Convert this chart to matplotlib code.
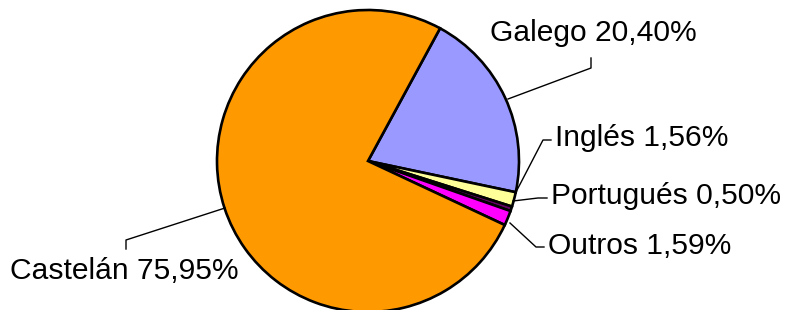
import matplotlib.pyplot as plt

# Data
labels = ["Galego", "Inglés", "Portugués", "Outros", "Castelán"]
values = [20.40, 1.56, 0.50, 1.59, 75.95]
colors = ["#9999FF", "#FFFF99", "#660066", "#FF00FF", "#FF9900"]
label_text = ["Galego 20,40%", "Inglés 1,56%", "Portugués 0,50%", "Outros 1,59%", "Castelán 75,95%"]

plt.rcParams['font.family'] = ['Liberation Sans', 'DejaVu Sans']

W, H = 787, 310
fig = plt.figure(figsize=(W / 100, H / 100), dpi=100)
ax = fig.add_axes([0, 0, 1, 1])


def Y(y):
    # image pixel row -> data y (upwards)
    return H - y


ax.pie(values, colors=colors, startangle=61.5, counterclock=False,
       center=(368, Y(161)), radius=151,
       wedgeprops=dict(edgecolor="black", linewidth=1.9))

# leader lines (image pixel coords) and label anchors
leaders = [
    [(508, 99), (591, 68), (591, 58)],
    [(516, 192), (543, 140), (551, 140)],
    [(513, 201), (538, 198), (547, 198)],
    [(510, 223), (536, 247), (544, 247)],
    [(225, 208), (126, 240), (126, 249)],
]
text_pos = [(490, 33), (555, 138), (551, 196), (548, 246), (10, 271)]

for pts, (tx, ty), txt in zip(leaders, text_pos, label_text):
    ax.plot([p[0] for p in pts], [Y(p[1]) for p in pts], color="black", lw=1)
    ax.text(tx, Y(ty), txt, fontsize=21.6, ha="left", va="center", color="black")

ax.set_xlim(0, W)
ax.set_ylim(0, H)
ax.set_aspect("equal")
ax.axis("off")

fig.savefig("out.png", dpi=100)
